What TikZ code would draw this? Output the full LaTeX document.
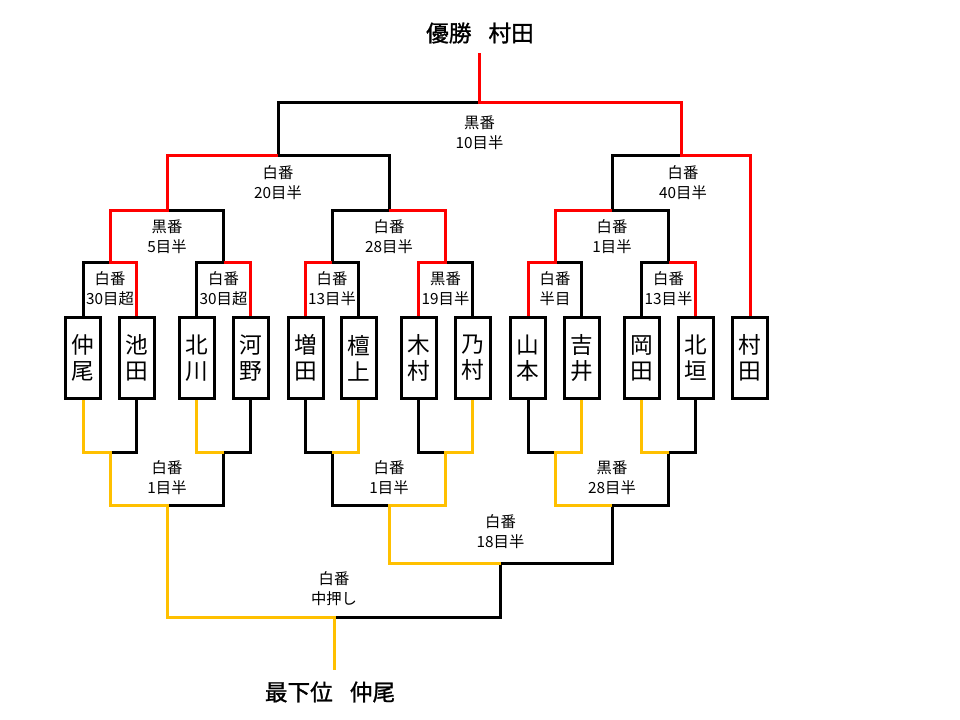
\documentclass[tikz,border=0pt]{standalone}
\usepackage{fontspec}
\setmainfont{Noto Sans CJK JP}
\newfontfamily\ttlfont[FakeBold=1.2]{Noto Sans CJK JP}
\definecolor{yel}{HTML}{FFC000}
\begin{document}
\begin{tikzpicture}[x=0.75pt,y=-0.75pt,
  ln/.style={line width=2.25pt},
  bk/.style={ln,draw=black},
  rd/.style={ln,draw=red},
  yl/.style={ln,draw=yel},
  player/.style={draw,line width=2.25pt,minimum width=26.25pt,minimum height=60.75pt,inner sep=0pt,align=center,font=\fontsize{17}{19.5}\selectfont},
  lbl/.style={align=center,inner sep=0pt,font=\fontsize{11.5}{15}\selectfont},
  ttl/.style={inner sep=0pt,font=\ttlfont\fontsize{17}{20}\selectfont}]
\useasboundingbox (0,0) rectangle (960,720);

% players
\node[player] (p1) at (83,358) {仲\\尾};
\node[player] (p2) at (136.5,358) {池\\田};
\node[player] (p3) at (196.5,358) {北\\川};
\node[player] (p4) at (250.5,358) {河\\野};
\node[player] (p5) at (305.5,358) {増\\田};
\node[player] (p6) at (358.5,358) {檀\\上};
\node[player] (p7) at (418.5,358) {木\\村};
\node[player] (p8) at (472.5,358) {乃\\村};
\node[player] (p9) at (528,358) {山\\本};
\node[player] (p10) at (581.5,358) {吉\\井};
\node[player] (p11) at (641.5,358) {岡\\田};
\node[player] (p12) at (695.5,358) {北\\垣};
\node[player] (p13) at (750,358) {村\\田};

% titles
\node[ttl] (top) at (480,33) {優勝\hspace{0.75em}村田};
\node[ttl] (bot) at (330,692) {最下位\hspace{0.75em}仲尾};

% winners bracket junctions
\coordinate (a1) at (110,263);
\coordinate (a2) at (223.5,263);
\coordinate (a3) at (332,263);
\coordinate (a4) at (445.5,263);
\coordinate (a5) at (555,263);
\coordinate (a6) at (668.5,263);
\coordinate (b1) at (167,211);
\coordinate (b2) at (389,211);
\coordinate (b3) at (612,211);
\coordinate (c1) at (278,156);
\coordinate (c2) at (681,156);
\coordinate (d) at (479.5,103);
\coordinate (tw) at (479.5,53);

% losers bracket junctions
\coordinate (e1) at (110,452);
\coordinate (e2) at (223.5,452);
\coordinate (e3) at (332,452);
\coordinate (e4) at (445.5,452);
\coordinate (e5) at (555,452);
\coordinate (e6) at (668.5,452);
\coordinate (f1) at (167,505);
\coordinate (f2) at (389,505);
\coordinate (f3) at (612,505);
\coordinate (g) at (500.5,563);
\coordinate (h) at (334,617);
\coordinate (bl) at (334,670);

% winners: black
\draw[bk] (p1.north) |- (a1);
\draw[bk] (p3.north) |- (a2) |- (b1);
\draw[bk] (p6.north) |- (a3) |- (b2);
\draw[bk] (p8.north) |- (a4);
\draw[bk] (p10.north) |- (a5);
\draw[bk] (p11.north) |- (a6) |- (b3);
\draw[bk] (b2) |- (c1);
\draw[bk] (b3) |- (c2);
\draw[bk] (c1) |- (d);
% winners: red
\draw[rd] (p2.north) |- (a1) |- (b1) |- (c1);
\draw[rd] (p4.north) |- (a2);
\draw[rd] (p5.north) |- (a3);
\draw[rd] (p7.north) |- (a4) |- (b2);
\draw[rd] (p9.north) |- (a5) |- (b3);
\draw[rd] (p12.north) |- (a6);
\draw[rd] (p13.north) |- (c2) |- (d) -- (tw);

% losers: black
\draw[bk] (p2.south) |- (e1);
\draw[bk] (p4.south) |- (e2) |- (f1);
\draw[bk] (p5.south) |- (e3) |- (f2);
\draw[bk] (p7.south) |- (e4);
\draw[bk] (p9.south) |- (e5);
\draw[bk] (p12.south) |- (e6) |- (f3) |- (g) |- (h);
% losers: yellow
\draw[yl] (p1.south) |- (e1) |- (f1) |- (h) -- (bl);
\draw[yl] (p3.south) |- (e2);
\draw[yl] (p6.south) |- (e3);
\draw[yl] (p8.south) |- (e4) |- (f2) |- (g);
\draw[yl] (p10.south) |- (e5) |- (f3);
\draw[yl] (p11.south) |- (e6);

% labels winners
\node[lbl] (ld) at (479.5,133) {黒番\\10目半};
\node[lbl] (lc1) at (278,183) {白番\\20目半};
\node[lbl] (lc2) at (683,183) {白番\\40目半};
\node[lbl] (lb1) at (167,237) {黒番\\5目半};
\node[lbl] (lb2) at (389,237) {白番\\28目半};
\node[lbl] (lb3) at (612,237) {白番\\1目半};
\node[lbl] (la1) at (110,289) {白番\\30目超};
\node[lbl] (la2) at (223.5,289) {白番\\30目超};
\node[lbl] (la3) at (332,289) {白番\\13目半};
\node[lbl] (la4) at (445.5,289) {黒番\\19目半};
\node[lbl] (la5) at (555,289) {白番\\半目};
\node[lbl] (la6) at (668.5,289) {白番\\13目半};
% labels losers
\node[lbl] (lf1) at (167,478) {白番\\1目半};
\node[lbl] (lf2) at (389,478) {白番\\1目半};
\node[lbl] (lf3) at (612,478) {黒番\\28目半};
\node[lbl] (lg) at (500.5,532) {白番\\18目半};
\node[lbl] (lh) at (334,589) {白番\\中押し};
\end{tikzpicture}
\end{document}
